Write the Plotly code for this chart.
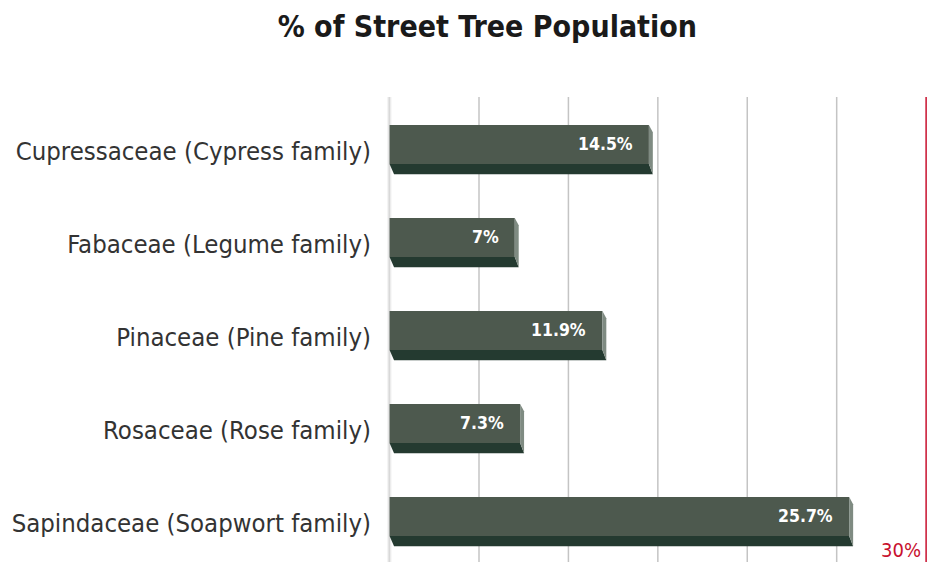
import plotly.graph_objects as go

categories = ["Cupressaceae (Cypress family)", "Fabaceae (Legume family)",
              "Pinaceae (Pine family)", "Rosaceae (Rose family)",
              "Sapindaceae (Soapwort family)"]
values = [14.5, 7, 11.9, 7.3, 25.7]
labels = ["14.5%", "7%", "11.9%", "7.3%", "25.7%"]
grid_ticks = [5, 10, 15, 20, 25]
target = 30

FONT = "DejaVu Sans Condensed, Liberation Sans Narrow, Arial Narrow, sans-serif"
FACE = "#4d594e"
BOTTOM = "#243a30"
SIDE = "#7f8b82"

fig = go.Figure()

SH = 0.086
FT, FB, SB = -0.20 - SH, 0.22 - SH, 0.33 - SH   # face top, face bottom, strip bottom
DX = 0.22

for i, v in enumerate(values):
    fig.add_trace(go.Scatter(
        x=[0, v, v, 0, 0], y=[i + FT, i + FT, i + FB, i + FB, i + FT],
        fill="toself", fillcolor=FACE, mode="lines", line=dict(width=0),
        hoverinfo="skip", showlegend=False))
    fig.add_trace(go.Scatter(
        x=[0, v, v + DX, 0.25, 0], y=[i + FB, i + FB, i + SB, i + SB, i + FB],
        fill="toself", fillcolor=BOTTOM, mode="lines", line=dict(width=0),
        hoverinfo="skip", showlegend=False))
    fig.add_trace(go.Scatter(
        x=[v, v + DX, v + DX, v, v], y=[i + FT, i + FT + 0.08, i + SB, i + FB, i + FT],
        fill="toself", fillcolor=SIDE, mode="lines", line=dict(width=0),
        hoverinfo="skip", showlegend=False))
    fig.add_annotation(x=v, y=i + (FT + FB) / 2, text="<b>%s</b>" % labels[i],
                       showarrow=False, xanchor="right", xshift=-14,
                       font=dict(family=FONT, size=17.5, color="white"))

for g in grid_ticks:
    fig.add_shape(type="line", x0=g, x1=g, y0=0, y1=1, xref="x", yref="paper",
                  line=dict(color="#c4c4c4", width=1.5), layer="below")
fig.add_shape(type="rect", x0=-0.12, x1=0.1, y0=0, y1=1, xref="x", yref="paper",
              fillcolor="#ececec", line=dict(width=0), layer="below")
fig.add_shape(type="line", x0=-0.02, x1=-0.02, y0=0, y1=1, xref="x", yref="paper",
              line=dict(color="#d0d0d0", width=1), layer="below")
fig.add_shape(type="line", x0=target, x1=target, y0=0, y1=1, xref="x", yref="paper",
              line=dict(color="#c8102e", width=1.5))
fig.add_annotation(x=target, y=0.0, xref="x", yref="paper", text="%d%%" % target,
                   showarrow=False, xanchor="right", yanchor="bottom", xshift=-3,
                   yshift=-2,
                   font=dict(family=FONT, size=20, color="#c8102e"))

fig.update_layout(
    width=939, height=562,
    margin=dict(l=386, r=12, t=97, b=0),
    paper_bgcolor="white", plot_bgcolor="white",
    title=dict(text="<b>% of Street Tree Population</b>", x=0.519, xanchor="center",
               y=0.952, yanchor="middle",
               font=dict(family=FONT, size=30, color="#1a1a1a")),
    xaxis=dict(range=[-0.2, 30.05], showgrid=False, zeroline=False,
               showticklabels=False, ticks="", automargin=False),
    yaxis=dict(range=[4.5 - SH, -0.5 - SH], tickvals=list(range(len(categories))),
               ticktext=categories, showgrid=False, zeroline=False, ticks="",
               ticklabelstandoff=14, automargin=False,
               tickfont=dict(family=FONT, size=25.5, color="#333333")),
)

fig.write_html("out.html", config={"displayModeBar": False},
               post_script="document.body.style.margin='0';document.body.style.overflow='hidden';")
